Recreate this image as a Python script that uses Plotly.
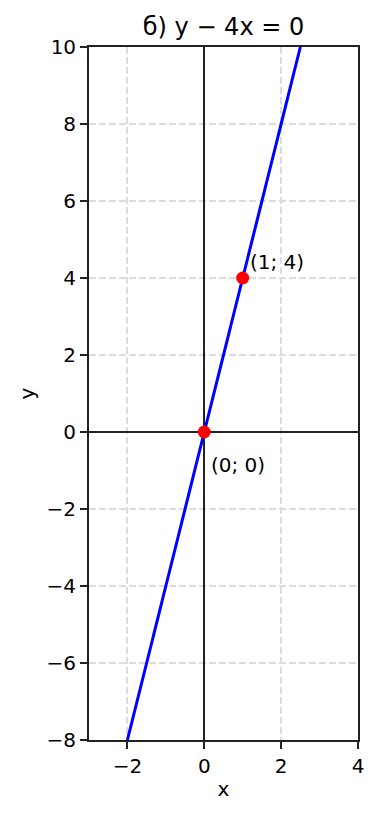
import plotly.graph_objects as go

line_x = [-2, 2.5]
line_y = [-8, 10]
pts_x = [0, 1]
pts_y = [0, 4]
pt_labels = ["(0; 0)", "(1; 4)"]
x_ticks = [-2, 0, 2, 4]
y_ticks = [-8, -6, -4, -2, 0, 2, 4, 6, 8, 10]

FONT = "DejaVu Sans"
FS = 20

fig = go.Figure()
fig.add_trace(go.Scatter(x=line_x, y=line_y, mode="lines",
                         line=dict(color="#0000ff", width=3), hoverinfo="skip"))
fig.add_trace(go.Scatter(x=pts_x, y=pts_y, mode="markers",
                         marker=dict(color="#ff0000", size=13), cliponaxis=False))

fig.add_annotation(x=pts_x[1], y=pts_y[1], text=pt_labels[1], showarrow=False,
                   xanchor="left", yanchor="bottom", xshift=5, yshift=2,
                   font=dict(family=FONT, size=FS, color="black"))
fig.add_annotation(x=pts_x[0], y=pts_y[0], text=pt_labels[0], showarrow=False,
                   xanchor="left", yanchor="top", xshift=5, yshift=-19,
                   font=dict(family=FONT, size=FS, color="black"))

axis_common = dict(
    showline=True, mirror=True, linecolor="#222222", linewidth=1.8,
    ticks="outside", ticklen=7, tickwidth=1.6, tickcolor="#222222",
    showgrid=True, gridcolor="#dcdcdc", griddash="7px,3px", gridwidth=1.5,
    zeroline=True, zerolinecolor="#222222", zerolinewidth=1.6,
    tickfont=dict(family=FONT, size=FS, color="black"),
)

fig.update_xaxes(range=[-3, 4], tickvals=x_ticks, **axis_common,
                 title=dict(text="x", font=dict(family=FONT, size=FS, color="black"), standoff=5))
fig.update_yaxes(range=[-8, 10], tickvals=y_ticks, **axis_common,
                 title=dict(text="y", font=dict(family=FONT, size=FS, color="black"), standoff=7))

fig.update_layout(
    width=379, height=818,
    margin=dict(l=89, r=21, t=47, b=78),
    plot_bgcolor="white", paper_bgcolor="white",
    showlegend=False,
    title=dict(text="б) y − 4x = 0", x=(89 + 358) / 2 / 379, xanchor="center",
               y=1 - 27 / 818, yanchor="middle",
               font=dict(family=FONT, size=24, color="black")),
)

fig.write_html("out.html", config={"displayModeBar": False})
